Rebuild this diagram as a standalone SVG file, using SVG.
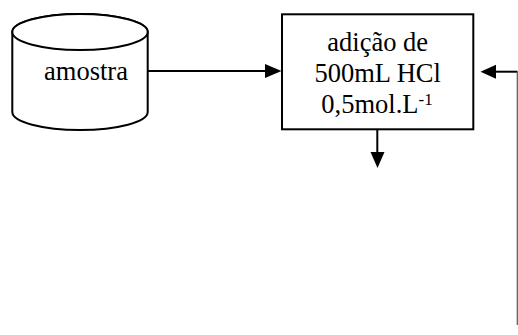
<svg xmlns="http://www.w3.org/2000/svg" width="518" height="335" viewBox="0 0 518 335">
<style>
.shape{fill:#fff;stroke:#000;stroke-width:2}
.lbl{font-family:"Liberation Serif","Times New Roman",serif;font-size:26.5px;fill:#000;text-anchor:middle}
.ln{fill:none;stroke:#000;stroke-width:2}
.thin{fill:none;stroke:#555;stroke-width:1.2}
.head{fill:#000;stroke:none}
</style>
<rect width="518" height="335" fill="#fff"/>
<g id="amostra">
<path class="shape" d="M12.3,32 L12.3,112 A67.7,18 0 0 0 147.7,112 L147.7,32 A67.7,18 0 0 0 12.3,32 Z"/>
<ellipse class="shape" cx="80" cy="32" rx="67.7" ry="18"/>
<text class="lbl" x="86" y="80">amostra</text>
</g>
<g id="adicao">
<rect class="shape" x="282" y="14.3" width="191.3" height="115"/>
<text class="lbl" x="377.7" y="51">adição de</text>
<text class="lbl" x="377.7" y="82">500mL HCl</text>
<text class="lbl" x="377" y="113">0,5mol.L<tspan dy="-8" font-size="17">-1</tspan></text>
</g>
<g id="connectors">
<line class="ln" x1="147.7" y1="71" x2="266" y2="71"/>
<polygon class="head" points="265,64 281.5,71 265,78"/>
<line class="ln" x1="377.3" y1="129.3" x2="377.3" y2="153"/>
<polygon class="head" points="370.5,152 384.5,152 377.5,168"/>
<line class="ln" x1="495" y1="71.7" x2="517.3" y2="71.7"/>
<polygon class="head" points="496,64.7 480.5,71.7 496,78.7"/>
<line class="thin" x1="517.3" y1="71" x2="517.3" y2="325"/>
</g>
</svg>
